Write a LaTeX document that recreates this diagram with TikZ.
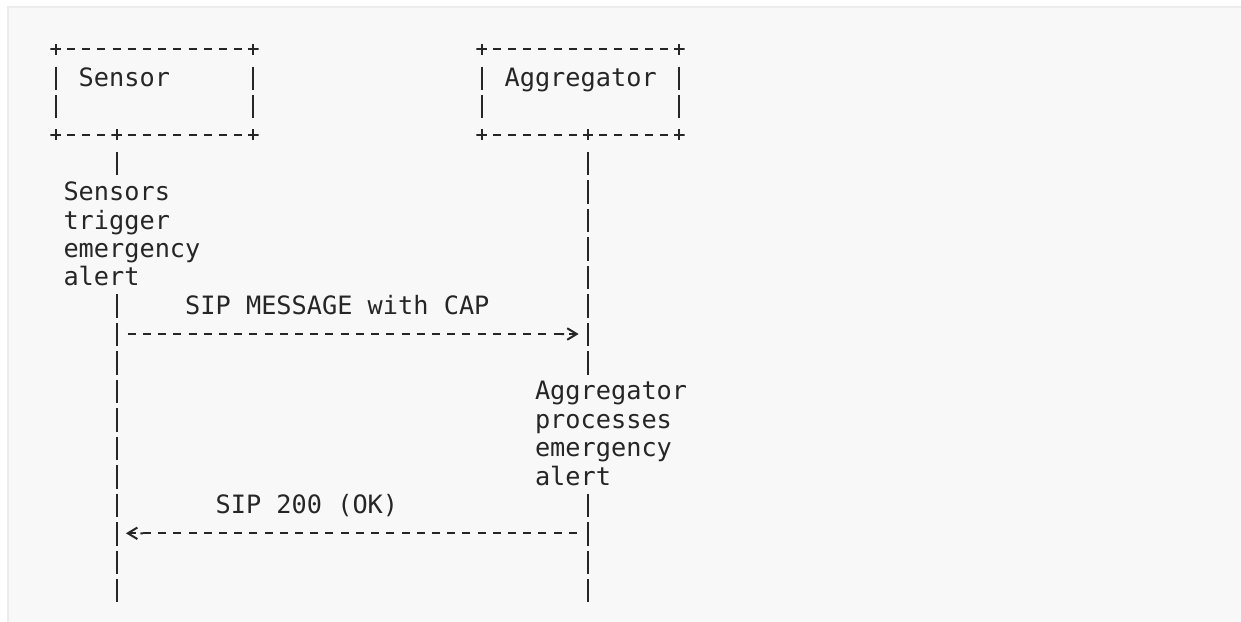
\documentclass[tikz,border=0pt]{standalone}
\usepackage{fontspec}
\newfontfamily\mono{DejaVu Sans Mono}
\usetikzlibrary{arrows.meta}
\definecolor{ink}{HTML}{262626}
\definecolor{panel}{HTML}{F8F8F8}
\definecolor{rule}{HTML}{ECECEC}
\tikzset{
  txt/.style={font={\mono\fontsize{25.27pt}{28.47pt}\selectfont}, text=ink, inner xsep=0pt, inner ysep=0pt, anchor=base west, xshift=-7.6pt, yshift=-8.9pt},
  note/.style={txt, align=left, fill=panel, inner ysep=4pt},
  corner/.style={inner sep=0pt, minimum size=10.5pt, path picture={\draw[ink, line width=2pt] (path picture bounding box.north) -- (path picture bounding box.south) (path picture bounding box.west) -- (path picture bounding box.east);}},
  hdash/.style={draw=ink, line width=2pt, dash pattern=on 8pt off 7.21pt, shorten <=11.21pt, shorten >=11.21pt},
  vbar/.style={draw=ink, line width=2pt, dash pattern=on 23.5pt off 4.97pt, shorten <=17.22pt, shorten >=16.22pt},
  msg/.style={draw=ink, line width=2pt, dash pattern=on 8pt off 7.21pt, shorten <=11.21pt, shorten >=9.41pt, -{Butt Cap[sep=2pt] Straight Barb[length=9.5pt, width=11.5pt]}}
}
\begin{document}
\begin{tikzpicture}[x=15.21pt, y=-28.47pt]
\useasboundingbox[fill=white] (-3.662,-1.7317) rectangle (77.93,20.116);
\fill[panel] (-3.202,-1.521) rectangle (77.93,20.116);
\draw[rule, line width=2pt] (-3.136,20.116) -- (-3.136,-1.4858) -- (77.93,-1.4858);

% Sensor box
\node[corner] (s-tl) at (0,0) {};
\node[corner] (s-tr) at (13,0) {};
\node[corner] (s-bl) at (0,3) {};
\node[corner] (s-bm) at (4,3) {};
\node[corner] (s-br) at (13,3) {};
\node[txt] (sensor) at (2,1) {Sensor};
\draw[hdash] (s-tl.center) -- (s-tr.center);
\draw[hdash] (s-bl.center) -- (s-bm.center);
\draw[hdash] (s-bm.center) -- (s-br.center);
\draw[vbar] (s-tl.center) -- (s-bl.center);
\draw[vbar] (s-tr.center) -- (s-br.center);

% Aggregator box
\node[corner] (a-tl) at (28,0) {};
\node[corner] (a-tr) at (41,0) {};
\node[corner] (a-bl) at (28,3) {};
\node[corner] (a-bm) at (35,3) {};
\node[corner] (a-br) at (41,3) {};
\node[txt] (aggregator) at (30,1) {Aggregator};
\draw[hdash] (a-tl.center) -- (a-tr.center);
\draw[hdash] (a-bl.center) -- (a-bm.center);
\draw[hdash] (a-bm.center) -- (a-br.center);
\draw[vbar] (a-tl.center) -- (a-bl.center);
\draw[vbar] (a-tr.center) -- (a-br.center);

% lifelines
\coordinate (s-end) at (4,20);
\coordinate (a-end) at (35,20);
\draw[vbar] (s-bm.center) -- (s-end);
\draw[vbar] (a-bm.center) -- (a-end);
\node[note] (s-note) at (1,8) {Sensors\\trigger\\emergency\\alert};
\node[note] (a-note) at (32,15) {Aggregator\\processes\\emergency\\alert};

% messages
\coordinate (s-req) at (4,10);
\coordinate (a-req) at (35,10);
\node[txt] (req) at (9,9) {SIP MESSAGE with CAP};
\draw[msg] (s-req) -- (a-req);
\coordinate (s-ok) at (4,17);
\coordinate (a-ok) at (35,17);
\node[txt] (ok) at (11,16) {SIP 200 (OK)};
\draw[msg] (a-ok) -- (s-ok);
\end{tikzpicture}
\end{document}
